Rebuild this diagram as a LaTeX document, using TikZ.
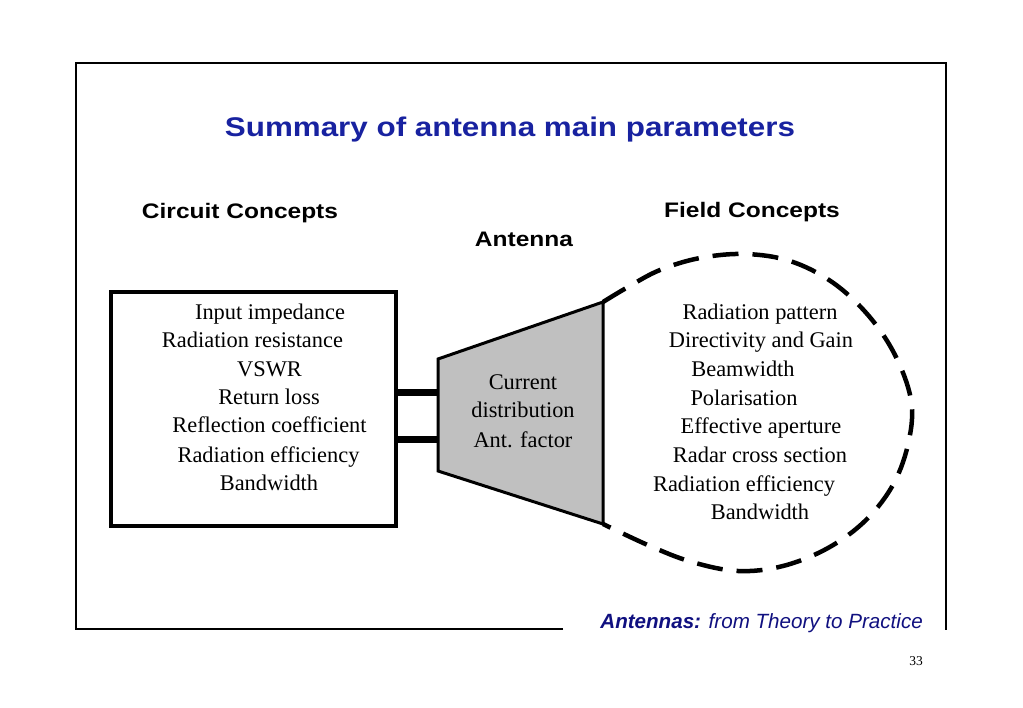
\documentclass[tikz,border=0pt]{standalone}
\usepackage{graphicx}
\usepackage{fontspec}
\setmainfont{Liberation Serif}
\newfontfamily\arialf{Liberation Sans}
\definecolor{titleblue}{RGB}{24,34,160}
\definecolor{footblue}{RGB}{16,16,128}
\definecolor{antgray}{RGB}{192,192,192}
\tikzset{
  frameline/.style={line width=2pt},
  circbox/.style={draw, line width=4pt, minimum width=285pt, minimum height=234pt, inner sep=0pt},
  antshape/.style={draw, fill=antgray, line width=3pt, line join=miter},
  feedbar/.style={line width=7pt},
  fieldline/.style={line width=4.5pt, dash pattern=on 26pt off 14pt},
  txt/.style={anchor=base, inner sep=0pt, font=\fontsize{22.4}{26}\selectfont},
  hdr/.style={anchor=base, inner sep=0pt, font=\arialf\bfseries\fontsize{21}{24}\selectfont},
}
\begin{document}
\begin{tikzpicture}[x=1pt,y=-1pt]
\useasboundingbox (0,0) rectangle (1023,708);
\fill[white] (0,0) rectangle (1023,708);
% frame
\coordinate (f1) at (563,629);
\coordinate (f2) at (76,629);
\coordinate (f3) at (76,63);
\coordinate (f4) at (946,63);
\coordinate (f5) at (946,630);
\draw[frameline] (f1) -- (f2) -- (f3) -- (f4) -- (f5);
% title
\node[anchor=base, inner sep=0pt, text=titleblue, font=\arialf\bfseries\fontsize{27}{30}\selectfont] (title) at (510,137) {\scalebox{1.162}[1]{Summary of antenna main parameters}};
% headers
\node[hdr] (hcirc) at (240,219) {\scalebox{1.167}[1]{Circuit Concepts}};
\node[hdr] (hfield) at (752,218) {\scalebox{1.167}[1]{Field Concepts}};
\node[hdr] (hant) at (524,247) {\scalebox{1.167}[1]{Antenna}};
% circuit box
\node[circbox] (box) at (253.5,409) {};
% antenna trapezoid
\coordinate (tA) at (438,359);
\coordinate (tB) at (603,302);
\coordinate (tC) at (603,524);
\coordinate (tD) at (438,471);
\draw[antshape] (tA) -- (tB) -- (tC) -- (tD) -- cycle;
% feed bars
\draw[feedbar] (box.east |- 0,393) -- (tA |- 0,393);
\draw[feedbar] (box.east |- 0,440) -- (tA |- 0,440);
% field dashed boundary
\draw[fieldline] plot[smooth, tension=0.6] coordinates {(tB) (628,287) (660,270) (700,258) (745,254) (790,261) (832,282) (868,315) (895,355) (911,400) (909,440) (894,483) (866,520) (828,548) (783,566) (738,571) (692,562) (650,546) (tC)};
% circuit texts
\node[txt] (c1) at (270,319.5) {Input impedance};
\node[txt] (c2) at (252.5,348) {Radiation resistance};
\node[txt] (c3) at (269.5,377) {VSWR};
\node[txt] (c4) at (269,405) {Return loss};
\node[txt] (c5) at (269.5,433) {Reflection coefficient};
\node[txt] (c6) at (268.5,462) {Radiation efficiency};
\node[txt] (c7) at (269,490) {Bandwidth};
% antenna texts
\node[txt] (a1) at (523,390) {Current};
\node[txt] (a2) at (523,418) {distribution};
\node[txt] (a3) at (523,447) {Ant. factor};
% field texts
\node[txt] (r1) at (760,320) {Radiation pattern};
\node[txt] (r2) at (761,348) {Directivity and Gain};
\node[txt] (r3) at (743,377) {Beamwidth};
\node[txt] (r4) at (744,406) {Polarisation};
\node[txt] (r5) at (761,434) {Effective aperture};
\node[txt] (r6) at (760,462) {Radar cross section};
\node[txt] (r7) at (744,491) {Radiation efficiency};
\node[txt] (r8) at (760,519) {Bandwidth};
% footer
\node[anchor=base east, inner sep=0pt, text=footblue, font=\arialf\itshape\fontsize{20.6}{24}\selectfont] (foot) at (923,628) {\textbf{Antennas:} from Theory to Practice};
\node[anchor=base east, inner sep=0pt, font=\fontsize{13.5}{15}\selectfont] (pnum) at (923,665) {33};
\end{tikzpicture}
\end{document}
